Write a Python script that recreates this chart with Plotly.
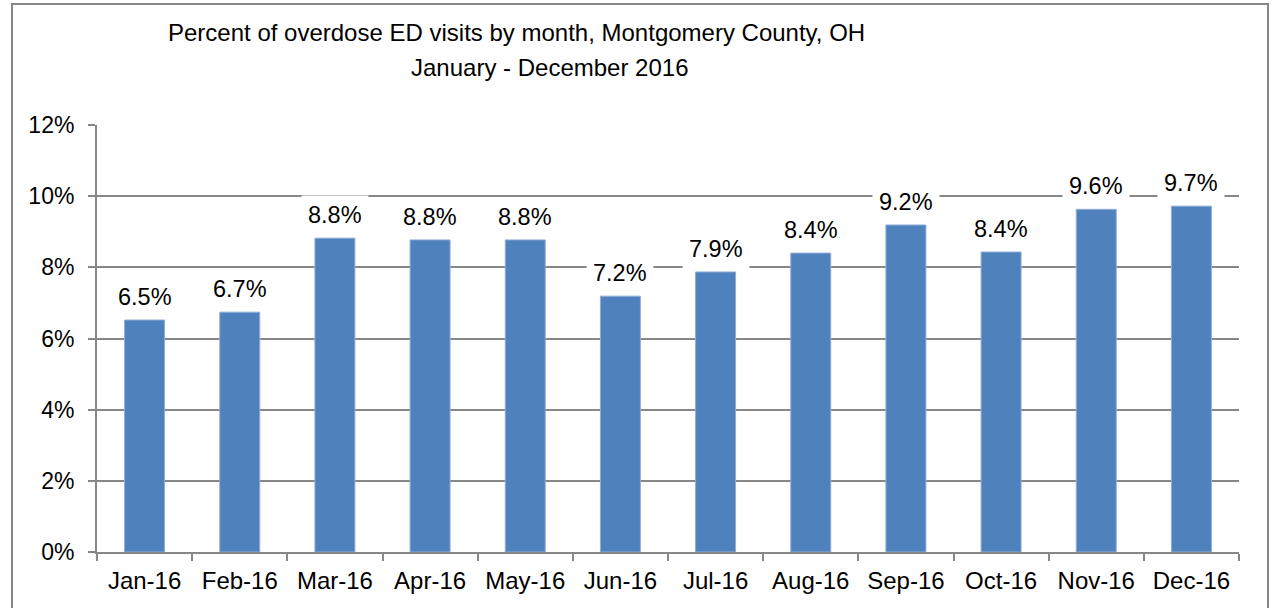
import plotly.graph_objects as go

months = ["Jan-16", "Feb-16", "Mar-16", "Apr-16", "May-16", "Jun-16",
          "Jul-16", "Aug-16", "Sep-16", "Oct-16", "Nov-16", "Dec-16"]
pct = [6.5, 6.7, 8.8, 8.8, 8.8, 7.2, 7.9, 8.4, 9.2, 8.4, 9.6, 9.7]
pct_bar = [6.52, 6.74, 8.82, 8.77, 8.77, 7.19, 7.87, 8.40, 9.19, 8.43, 9.63, 9.72]
title_line1 = "Percent of overdose ED visits by month, Montgomery County, OH"
title_line2 = "January - December 2016"

FONT = "Liberation Sans, Arial, sans-serif"
GRAY = "#878787"

W, H = 1272, 608
L, R, T, B = 97, 33, 125, 56
pw, ph = W - L - R, H - T - B

def px_x(x):
    return (x - L) / pw

def px_y(y):
    return (H - B - y) / ph

fig = go.Figure()
fig.add_trace(go.Bar(
    x=months, y=pct_bar, width=0.42,
    marker=dict(color="#4F81BD", line=dict(color="#8EACD6", width=1)),
    hoverinfo="skip",
))

annotations = []
for m, v, lab in zip(months, pct_bar, pct):
    annotations.append(dict(
        x=m, y=v, xref="x", yref="y", text=f"{lab:.1f}%", showarrow=False,
        yanchor="middle", yshift=23, bgcolor="white", borderpad=6,
        font=dict(family=FONT, size=23.5, color="black"),
    ))
annotations.append(dict(
    x=px_x(516), y=px_y(33), xref="paper", yref="paper", text=title_line1,
    showarrow=False, xanchor="center", yanchor="middle",
    font=dict(family=FONT, size=24, color="black"),
))
annotations.append(dict(
    x=px_x(549), y=px_y(67), xref="paper", yref="paper", text=title_line2,
    showarrow=False, xanchor="center", yanchor="middle",
    font=dict(family=FONT, size=24, color="black"),
))

fig.update_layout(
    width=W, height=H,
    margin=dict(l=L, r=R, t=T, b=B, pad=0),
    paper_bgcolor="white", plot_bgcolor="white",
    showlegend=False,
    annotations=annotations,
    shapes=[dict(type="rect", xref="paper", yref="paper",
                 x0=px_x(12), x1=px_x(1268), y0=px_y(640), y1=px_y(4),
                 line=dict(color=GRAY, width=2), layer="below")],
    xaxis=dict(
        type="category", showgrid=False, showline=True, linecolor=GRAY, linewidth=2,
        ticks="outside", tickson="boundaries", ticklen=7, tickcolor=GRAY, tickwidth=2,
        tickfont=dict(family=FONT, size=24, color="black"), ticklabelstandoff=6,
        range=[-0.5, 11.5], fixedrange=True,
    ),
    yaxis=dict(
        range=[0, 12], dtick=2, ticksuffix="%", showgrid=True, gridcolor=GRAY, gridwidth=2,
        showline=True, linecolor=GRAY, linewidth=2, zeroline=False,
        ticks="outside", ticklen=7, tickcolor=GRAY, tickwidth=2,
        tickfont=dict(family=FONT, size=23, color="black"), ticklabelstandoff=9,
        fixedrange=True,
    ),
)

fig.write_html(
    "out.html",
    config={"displayModeBar": False},
    post_script="document.body.style.margin='0';document.body.style.overflow='hidden';",
)
